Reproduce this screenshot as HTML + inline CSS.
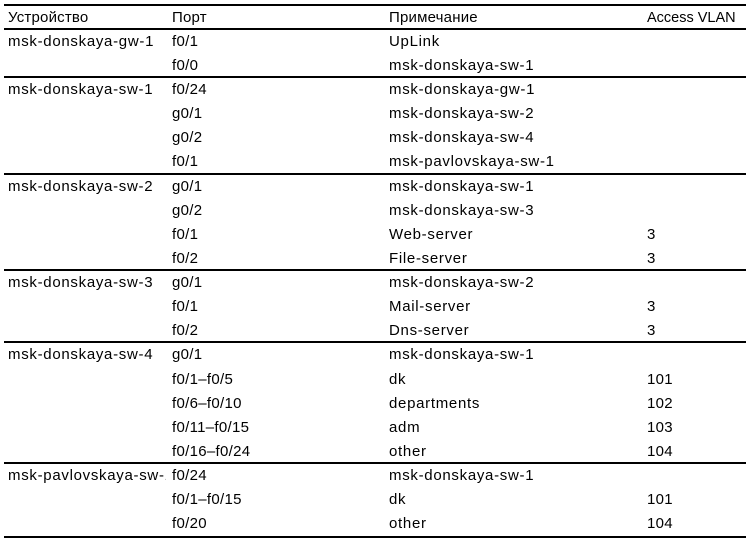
<!DOCTYPE html>
<html><head><meta charset="utf-8"><style>
html,body{margin:0;padding:0;background:#fff;width:752px;height:542px;overflow:hidden}
body{position:relative;font-family:"Liberation Sans","DejaVu Sans",sans-serif;font-size:15px;letter-spacing:0.7px;color:#000}
.l{position:absolute;left:4px;width:742px;background:#000}
.t{position:absolute;line-height:24px;white-space:nowrap}
.n{letter-spacing:0.3px}
</style></head><body>
<div class="l" style="top:4px;height:2px"></div>
<div class="l" style="top:28px;height:1.5px"></div>
<div class="l" style="top:76px;height:1.5px"></div>
<div class="l" style="top:173px;height:1.5px"></div>
<div class="l" style="top:269px;height:1.5px"></div>
<div class="l" style="top:341px;height:1.5px"></div>
<div class="l" style="top:462px;height:1.5px"></div>
<div class="l" style="top:536px;height:2px"></div>

<div class="t" style="top:6px;left:8px;letter-spacing:0.2px">Устройство</div>
<div class="t" style="top:6px;left:172px;letter-spacing:0.2px">Порт</div>
<div class="t" style="top:6px;left:389px;letter-spacing:0.2px">Примечание</div>
<div class="t" style="top:6px;left:647px;letter-spacing:0;font-size:14.5px">Access VLAN</div>

<div class="t" style="top:30px;left:8px">msk-donskaya-gw-1</div>
<div class="t n" style="top:30px;left:172px">f0/1</div><div class="t" style="top:30px;left:389px">UpLink</div>
<div class="t n" style="top:54px;left:172px">f0/0</div><div class="t" style="top:54px;left:389px">msk-donskaya-sw-1</div>

<div class="t" style="top:78px;left:8px">msk-donskaya-sw-1</div>
<div class="t n" style="top:78px;left:172px">f0/24</div><div class="t" style="top:78px;left:389px">msk-donskaya-gw-1</div>
<div class="t n" style="top:102px;left:172px">g0/1</div><div class="t" style="top:102px;left:389px">msk-donskaya-sw-2</div>
<div class="t n" style="top:126px;left:172px">g0/2</div><div class="t" style="top:126px;left:389px">msk-donskaya-sw-4</div>
<div class="t n" style="top:150px;left:172px">f0/1</div><div class="t" style="top:150px;left:389px">msk-pavlovskaya-sw-1</div>

<div class="t" style="top:175px;left:8px">msk-donskaya-sw-2</div>
<div class="t n" style="top:175px;left:172px">g0/1</div><div class="t" style="top:175px;left:389px">msk-donskaya-sw-1</div>
<div class="t n" style="top:199px;left:172px">g0/2</div><div class="t" style="top:199px;left:389px">msk-donskaya-sw-3</div>
<div class="t n" style="top:223px;left:172px">f0/1</div><div class="t" style="top:223px;left:389px">Web-server</div><div class="t n" style="top:223px;left:647px">3</div>
<div class="t n" style="top:247px;left:172px">f0/2</div><div class="t" style="top:247px;left:389px">File-server</div><div class="t n" style="top:247px;left:647px">3</div>

<div class="t" style="top:271px;left:8px">msk-donskaya-sw-3</div>
<div class="t n" style="top:271px;left:172px">g0/1</div><div class="t" style="top:271px;left:389px">msk-donskaya-sw-2</div>
<div class="t n" style="top:295px;left:172px">f0/1</div><div class="t" style="top:295px;left:389px">Mail-server</div><div class="t n" style="top:295px;left:647px">3</div>
<div class="t n" style="top:319px;left:172px">f0/2</div><div class="t" style="top:319px;left:389px">Dns-server</div><div class="t n" style="top:319px;left:647px">3</div>

<div class="t" style="top:343px;left:8px">msk-donskaya-sw-4</div>
<div class="t n" style="top:343px;left:172px">g0/1</div><div class="t" style="top:343px;left:389px">msk-donskaya-sw-1</div>
<div class="t n" style="top:368px;left:172px">f0/1–f0/5</div><div class="t" style="top:368px;left:389px">dk</div><div class="t n" style="top:368px;left:647px">101</div>
<div class="t n" style="top:392px;left:172px">f0/6–f0/10</div><div class="t" style="top:392px;left:389px">departments</div><div class="t n" style="top:392px;left:647px">102</div>
<div class="t n" style="top:416px;left:172px">f0/11–f0/15</div><div class="t" style="top:416px;left:389px">adm</div><div class="t n" style="top:416px;left:647px">103</div>
<div class="t n" style="top:440px;left:172px">f0/16–f0/24</div><div class="t" style="top:440px;left:389px">other</div><div class="t n" style="top:440px;left:647px">104</div>

<div class="t" style="top:464px;left:8px;width:158px;overflow:hidden">msk-pavlovskaya-sw-1</div>
<div class="t n" style="top:464px;left:172px">f0/24</div><div class="t" style="top:464px;left:389px">msk-donskaya-sw-1</div>
<div class="t n" style="top:488px;left:172px">f0/1–f0/15</div><div class="t" style="top:488px;left:389px">dk</div><div class="t n" style="top:488px;left:647px">101</div>
<div class="t n" style="top:512px;left:172px">f0/20</div><div class="t" style="top:512px;left:389px">other</div><div class="t n" style="top:512px;left:647px">104</div>
</body></html>
